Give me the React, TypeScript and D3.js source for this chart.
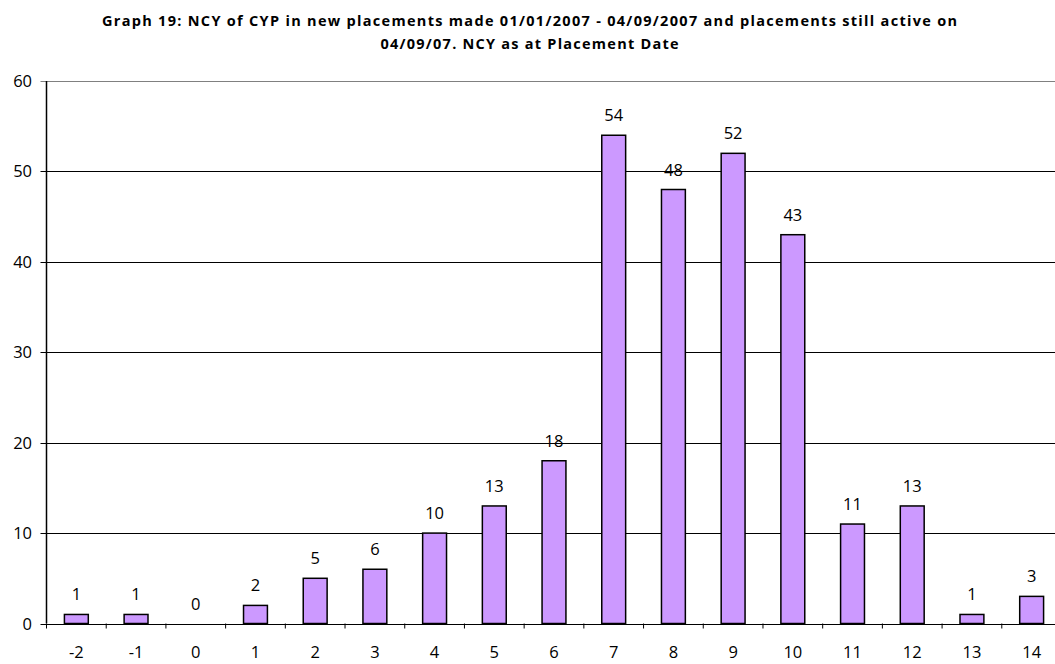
import React from "react";
import * as d3 from "d3";

const categories = ["-2", "-1", "0", "1", "2", "3", "4", "5", "6", "7", "8", "9", "10", "11", "12", "13", "14"];
const values = [1, 1, 0, 2, 5, 6, 10, 13, 18, 54, 48, 52, 43, 11, 13, 1, 3];
const yTicks = [0, 10, 20, 30, 40, 50, 60];
const titleLines = [
  "Graph 19: NCY of CYP in new placements made 01/01/2007 - 04/09/2007 and placements still active on",
  "04/09/07. NCY as at Placement Date",
];
const titleWidths = [855, 298];

export default function App() {
  const W = 1055, H = 664;
  const left = 46.5, right = 1061.5, top = 81, bottom = 623.5;
  const x = d3.scaleBand().domain(categories).range([left, right]).paddingInner(0.6).paddingOuter(0.3);
  const xOuter = d3.scaleBand().domain(categories).range([left, right]);
  const y = d3.scaleLinear().domain([0, 60]).range([bottom, top]);
  const font = "'Open Sans', 'DejaVu Sans', sans-serif";
  const fs = 16.5;
  return (
    <svg width={W} height={H} style={{ position: "absolute", left: 0, top: 0, background: "#fff" }}>
      {titleLines.map((t, i) => (
        <text key={i} x={529.5} y={25.5 + i * 23.5} textAnchor="middle" fontFamily={font} fontWeight="bold" fontSize={14.5}
          textLength={titleWidths[i]} lengthAdjust="spacing" fill="#000">
          {t}
        </text>
      ))}
      {yTicks.map((v) => (
        <g key={v}>
          <line x1={left - 6} x2={W} y1={Math.round(y(v)) + 0.5} y2={Math.round(y(v)) + 0.5} stroke={v === 60 ? "#808080" : "#000"} strokeWidth={1} />
          <text x={32} y={y(v) + 6} textAnchor="end" fontFamily={font} fontSize={fs} fill="#000">{v}</text>
        </g>
      ))}
      <line x1={left} x2={left} y1={top} y2={bottom} stroke="#000" strokeWidth={1.5} />
      {categories.map((c, i) => (
        <line key={"t" + i} x1={xOuter(c)!} x2={xOuter(c)!} y1={bottom} y2={bottom + 5} stroke="#000" strokeWidth={1} />
      ))}
      {categories.map((c, i) => (
        <g key={c}>
          {values[i] > 0 && (
            <rect x={x(c)!} y={y(values[i])} width={x.bandwidth()} height={bottom - y(values[i])} fill="#CC99FF" stroke="#000" strokeWidth={1.5} />
          )}
          <text x={x(c)! + x.bandwidth() / 2} y={y(values[i]) - 14} textAnchor="middle" fontFamily={font} fontSize={fs} fill="#000">{values[i]}</text>
          <text x={x(c)! + x.bandwidth() / 2} y={658} textAnchor="middle" fontFamily={font} fontSize={fs} fill="#000">{c}</text>
        </g>
      ))}
    </svg>
  );
}
